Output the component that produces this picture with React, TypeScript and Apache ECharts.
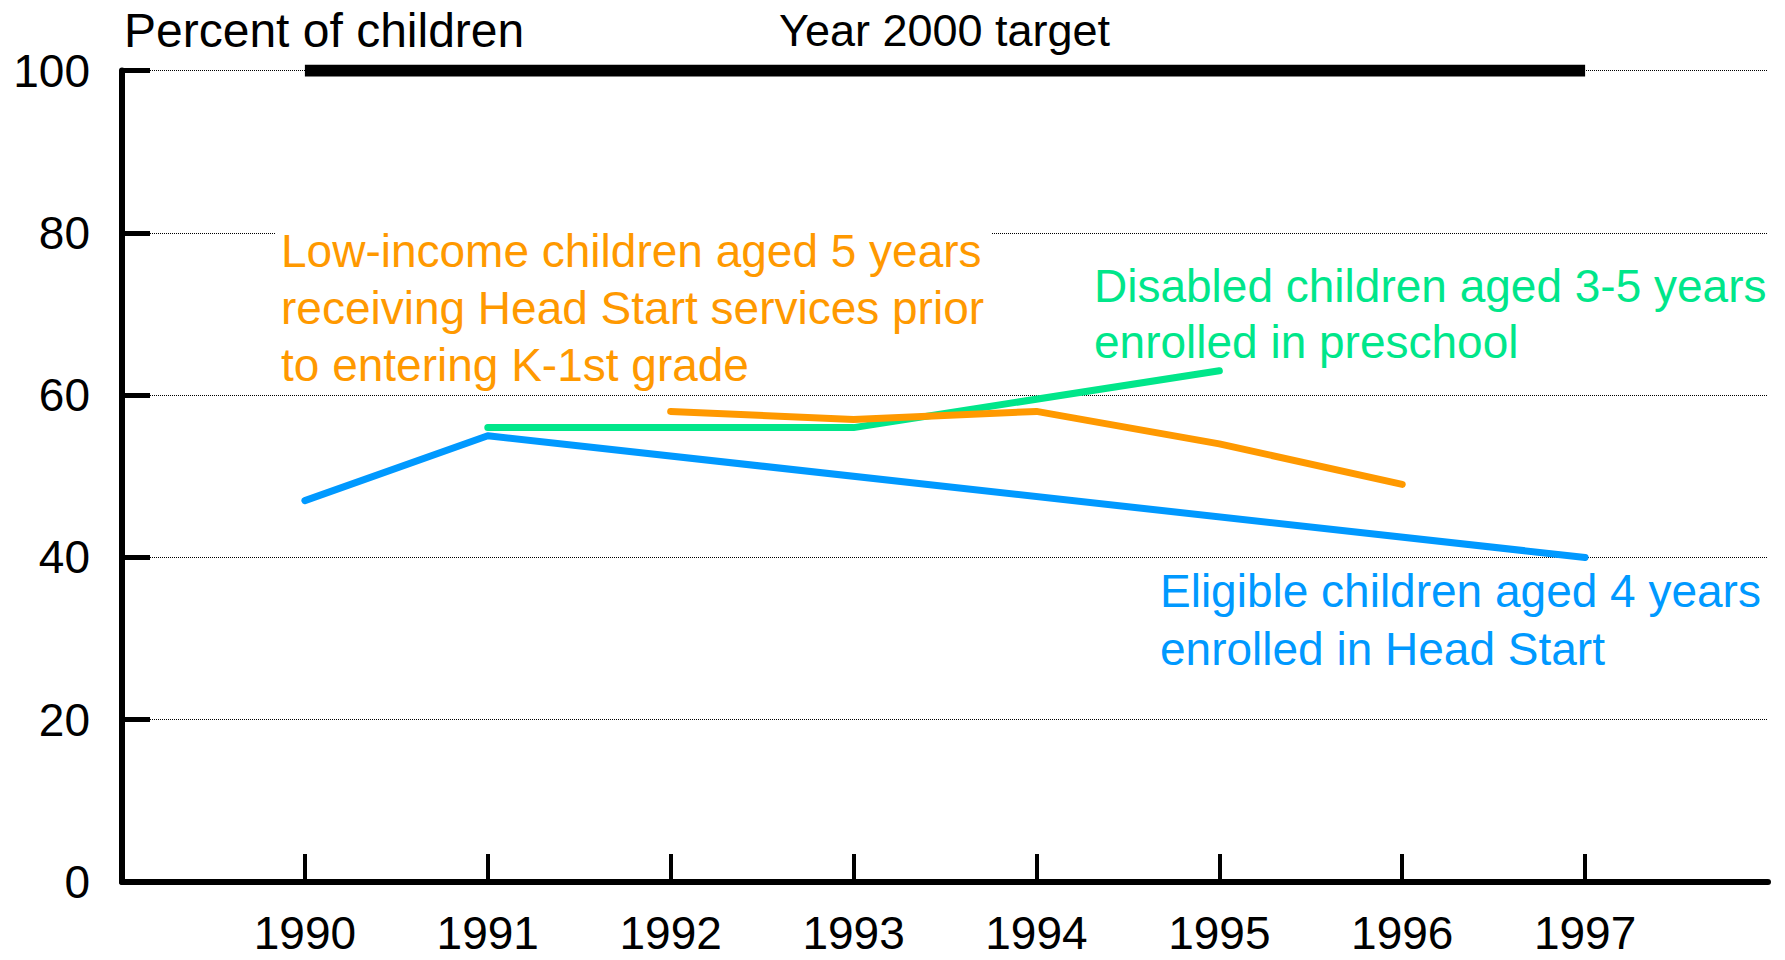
import React, { useEffect, useRef } from "react";
import * as echarts from "echarts";

const yearTicks = [1990, 1991, 1992, 1993, 1994, 1995, 1996, 1997];

const eligibleYears = [1990, 1991, 1997];
const eligibleValues = [47, 55, 40];

const disabledYears = [1991, 1993, 1995];
const disabledValues = [56, 56, 63];

const lowIncomeYears = [1992, 1993, 1994, 1995, 1996];
const lowIncomeValues = [58, 57, 58, 54, 49];

const targetYears = [1990, 1997];
const targetValues = [100, 100];

const yTicks = [0, 20, 40, 60, 80, 100];

const yTitle = "Percent of children";
const targetLabel = "Year 2000 target";
const lowIncomeLabel = [
  "Low-income children aged 5 years",
  "receiving Head Start services prior",
  "to entering K-1st grade",
];
const disabledLabel = ["Disabled children aged 3-5 years", "enrolled in preschool"];
const eligibleLabel = ["Eligible children aged 4 years", "enrolled in Head Start"];

const BLUE = "#0099ff";
const GREEN = "#00e68a";
const ORANGE = "#ff9900";
const FAMILY = '"Liberation Sans", Arial, sans-serif';

const zip = (xs: number[], ys: number[]) => xs.map((x, i) => [x, ys[i]]);

function lineText(text: string, x: number, y: number, fill: string, size = 46) {
  return {
    type: "text",
    x,
    y,
    z: 20,
    style: {
      text,
      x: 0,
      y: 0,
      fill,
      font: `${size}px ${FAMILY}`,
      textAlign: "left",
      align: "left",
      textVerticalAlign: "middle",
      verticalAlign: "middle",
    },
  };
}

export default function App() {
  const ref = useRef<HTMLDivElement>(null);
  useEffect(() => {
    if (!ref.current) return;
    const chart = echarts.init(ref.current, undefined, { renderer: "svg" });
    const lineSeries = (name: string, data: number[][], color: string, z: number) => ({
      type: "line",
      name,
      data,
      showSymbol: false,
      symbol: "none",
      z,
      lineStyle: { color, width: 7, cap: "round", join: "round" },
      itemStyle: { color },
      silent: true,
    });
    chart.setOption({
      animation: false,
      backgroundColor: "#fff",
      textStyle: { fontFamily: FAMILY },
      grid: { left: 122, right: 17, top: 70.6, bottom: 78, containLabel: false },
      xAxis: {
        type: "value",
        min: 1989,
        max: 1998,
        interval: 1,
        axisLine: { show: true, lineStyle: { color: "#000", width: 6 } },
        axisTick: {
          show: true,
          inside: true,
          length: 28,
          customValues: yearTicks,
          lineStyle: { color: "#000", width: 4 },
        },
        axisLabel: {
          show: true,
          customValues: yearTicks,
          margin: 32,
          lineHeight: 38,
          color: "#000",
          fontSize: 46,
          fontFamily: FAMILY,
          formatter: (v: number) => String(v),
        },
        splitLine: { show: false },
      },
      yAxis: {
        type: "value",
        min: 0,
        max: 100,
        interval: 20,
        axisLine: { show: true, lineStyle: { color: "#000", width: 6 } },
        axisTick: {
          show: true,
          inside: true,
          length: 28,
          customValues: yTicks,
          lineStyle: { color: "#000", width: 5 },
        },
        axisLabel: {
          show: true,
          margin: 32,
          color: "#000",
          fontSize: 46,
          fontFamily: FAMILY,
        },
        splitLine: { show: true, lineStyle: { color: "#000", width: 1, type: [1, 1] } },
      },
      series: [
        lineSeries("Eligible children aged 4 years enrolled in Head Start", zip(eligibleYears, eligibleValues), BLUE, 3),
        lineSeries("Disabled children aged 3-5 years enrolled in preschool", zip(disabledYears, disabledValues), GREEN, 4),
        lineSeries("Low-income children aged 5 years receiving Head Start services", zip(lowIncomeYears, lowIncomeValues), ORANGE, 5),
        {
          type: "line",
          name: "Year 2000 target",
          data: zip(targetYears, targetValues),
          showSymbol: false,
          symbol: "none",
          z: 6,
          silent: true,
          lineStyle: { color: "#000", width: 12, cap: "butt" },
        },
      ],
      graphic: [
        {
          type: "rect",
          z: 15,
          shape: { x: 276, y: 226, width: 716, height: 14 },
          style: { fill: "#fff" },
        },
        lineText(yTitle, 124, 30, "#000", 48),
        lineText(targetLabel, 779, 30, "#000", 45),
        ...lowIncomeLabel.map((t, i) => lineText(t, 281, 251 + i * 57, ORANGE)),
        ...disabledLabel.map((t, i) => lineText(t, 1094, 286 + i * 56, GREEN)),
        ...eligibleLabel.map((t, i) => lineText(t, 1160, 591 + i * 58, BLUE)),
      ],
    });
    return () => chart.dispose();
  }, []);
  return (
    <div
      ref={ref}
      style={{ position: "absolute", left: 0, top: 0, width: 1785, height: 960, background: "#fff" }}
    />
  );
}
